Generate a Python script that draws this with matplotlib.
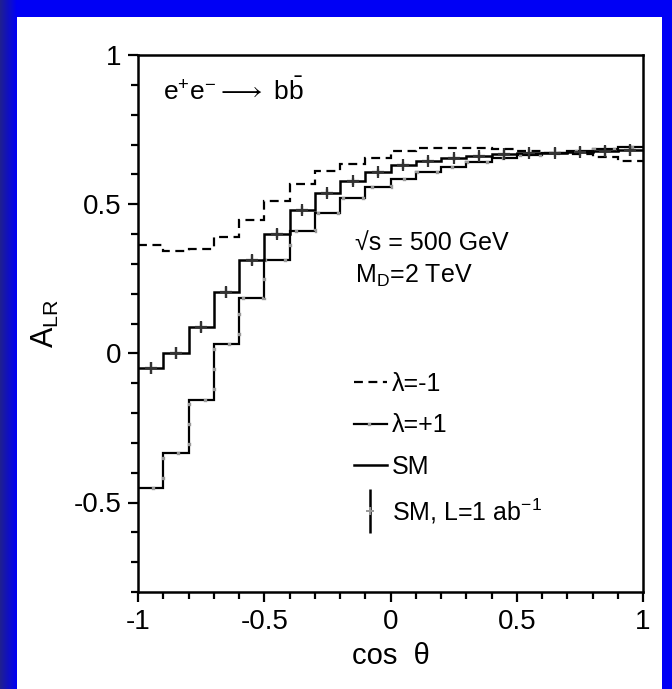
import numpy as np
import matplotlib
matplotlib.use("Agg")
import matplotlib.pyplot as plt
from matplotlib.lines import Line2D
from matplotlib.legend_handler import HandlerTuple
from matplotlib.patches import Rectangle

plt.rcParams["font.family"] = ["Liberation Sans", "DejaVu Sans"]
plt.rcParams["mathtext.fontset"] = "custom"
plt.rcParams["mathtext.rm"] = "Liberation Sans"
plt.rcParams["mathtext.it"] = "Liberation Sans:italic"

# 20 bins in cos(theta)
edges = [-1.0, -0.9, -0.8, -0.7, -0.6, -0.5, -0.4, -0.3, -0.2, -0.1, 0.0,
         0.1, 0.2, 0.3, 0.4, 0.5, 0.6, 0.7, 0.8, 0.9, 1.0]
lam_m1 = [0.362, 0.343, 0.350, 0.390, 0.448, 0.509, 0.567, 0.610, 0.634, 0.654,
          0.678, 0.688, 0.689, 0.689, 0.686, 0.678, 0.672, 0.667, 0.657, 0.646]
lam_p1 = [-0.451, -0.333, -0.156, 0.030, 0.186, 0.313, 0.409, 0.471, 0.522, 0.557,
          0.584, 0.607, 0.626, 0.641, 0.655, 0.664, 0.671, 0.678, 0.685, 0.692]
sm = [-0.048, 0.000, 0.088, 0.205, 0.313, 0.401, 0.480, 0.537, 0.577, 0.607,
      0.630, 0.646, 0.656, 0.663, 0.668, 0.671, 0.673, 0.675, 0.678, 0.680]
sm_err = [0.020, 0.020, 0.018, 0.018, 0.016, 0.015, 0.014, 0.013, 0.012, 0.012,
          0.012, 0.012, 0.012, 0.012, 0.012, 0.013, 0.014, 0.015, 0.016, 0.018]

BLUE = "#0000f5"
FS = 18

fig = plt.figure(figsize=(6.72, 6.89), dpi=100, facecolor=BLUE)
# slide background: white panel, darker strip on the left edge
fig.patches.append(Rectangle((17 / 672, 0), 645 / 672, 672 / 689, transform=fig.transFigure,
                             facecolor="white", edgecolor="none", zorder=-10))
strip = fig.add_axes([0, 0, 17 / 672, 1])
strip.imshow(np.linspace(0, 1, 32)[None, :], aspect="auto", extent=(0, 1, 0, 1),
             cmap=matplotlib.colors.LinearSegmentedColormap.from_list("edge", ["#202090", BLUE]))
strip.axis("off")

ax = fig.add_axes([138 / 672, 97 / 689, 505 / 672, 537 / 689])
x = np.array(edges)
centers = (x[:-1] + x[1:]) / 2

ax.stairs(lam_m1, edges, baseline=None, color="black", lw=1.6, ls=(0, (4, 2.5)))
ax.stairs(lam_p1, edges, baseline=None, color="black", lw=1.6)
ax.stairs(lam_p1, edges, baseline=None, color="#999999", lw=2.4, ls=(2, (1.0, 5.0)))
ax.stairs(sm, edges, baseline=None, color="black", lw=1.8)
ax.errorbar(centers, sm, yerr=sm_err, fmt="+", color="#333333", ms=8, mew=1.6,
            elinewidth=1.6, capsize=0)

ax.set_xlim(-1, 1)
ax.set_ylim(-0.8, 1)
ax.set_xticks([-1, -0.5, 0, 0.5, 1])
ax.set_xticklabels(["-1", "-0.5", "0", "0.5", "1"])
ax.set_xticks(x, minor=True)
ax.set_yticks([-0.5, 0, 0.5, 1])
ax.set_yticklabels(["-0.5", "0", "0.5", "1"])
ax.set_yticks(np.arange(-0.8, 1.0, 0.1), minor=True)
ax.tick_params(which="both", direction="out", width=1.6, labelsize=20, color="black")
ax.tick_params(which="major", length=7, pad=5)
ax.tick_params(which="minor", length=5)
for s in ax.spines.values():
    s.set_linewidth(1.8)

ax.set_xlabel("cos  θ", fontsize=21)
ax.xaxis.set_label_coords(0.5, -0.093)
ax.set_ylabel(r"A$_{\rm LR}$", fontsize=22)
ax.yaxis.set_label_coords(-0.153, 0.5)

ax.text(-0.9, 0.849, r"e$^{+}$e$^{-}$$\longrightarrow$ b$\bar{\rm b}$", fontsize=19,
        va="baseline")
ax.text(-0.141, 0.346, "√s = 500 GeV", fontsize=FS, va="baseline")
ax.text(-0.141, 0.236, r"M$_{\rm D}$=2 TeV", fontsize=FS, va="baseline")

h_m1 = Line2D([], [], color="black", lw=1.6, ls=(0, (4, 2.5)))
h_p1 = (Line2D([], [], color="black", lw=1.6),
        Line2D([], [], color="#999999", lw=2.4, ls=(2, (1.0, 5.0))))
h_sm = Line2D([], [], color="black", lw=1.8)
h_err = (Line2D([], [], color="black", marker="|", ms=32, mew=1.8, ls="none"),
         Line2D([], [], color="#999999", marker="+", ms=6, mew=1.4, ls="none"))
ax.legend([h_m1, h_p1, h_sm, h_err], ["λ=-1", "λ=+1", "SM", r"SM, L=1 ab$^{-1}$"],
          handler_map={tuple: HandlerTuple(ndivide=1, pad=0)},
          loc="upper left", bbox_to_anchor=(0.4277, 0.410), frameon=False,
          fontsize=FS, handlelength=1.32, handletextpad=0.2, labelspacing=0.70,
          borderpad=0, borderaxespad=0)

fig.savefig("out.png", dpi=100, facecolor=fig.get_facecolor())
